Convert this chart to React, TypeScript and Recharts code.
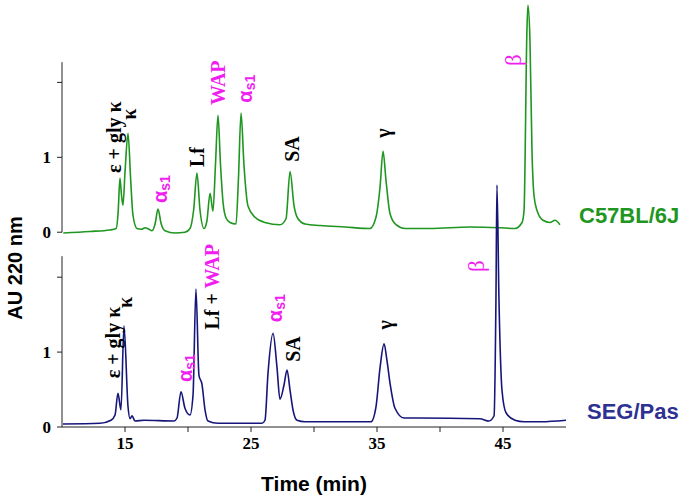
import { LineChart, Line, XAxis, YAxis, ReferenceLine, ReferenceDot } from 'recharts';

// retention time (min) and absorbance
const greenTime = [
  10.1, 12.2, 13.8, 14.3, 14.45, 14.6, 14.72, 14.84, 15.0, 15.24, 15.45, 15.63, 15.95, 16.3, 16.6, 16.9,
  17.14, 17.4, 17.62, 17.86, 18.17, 18.97, 19.76, 20.16, 20.45, 20.71, 20.95, 21.27, 21.5, 21.75, 21.98,
  22.18, 22.38, 22.58, 22.78, 23.02, 23.33, 23.81, 24.0, 24.21, 24.44, 24.76, 25.32, 26.11, 27.3, 27.78,
  28.1, 28.41, 28.73, 29.29, 30.48, 32.46, 34.44, 34.92, 35.24, 35.48, 35.71, 36.03, 36.51, 37.22, 39.21,
  42.38, 44.76, 45.95, 46.51, 46.67, 46.9, 46.98, 47.14, 47.3, 47.46, 47.7, 48.17, 48.73, 49.13, 49.52,
];
const greenAU = [
  -0.01, 0.01, 0.03, 0.05, 0.25, 0.72, 0.5, 0.36, 0.8, 1.32, 0.7, 0.23, 0.05, 0.04, 0.06, 0.04,
  0.02, 0.12, 0.31, 0.12, 0.02, -0.01, 0.0, 0.05, 0.3, 0.79, 0.3, 0.05, 0.15, 0.52, 0.28,
  0.9, 1.56, 0.9, 0.4, 0.19, 0.13, 0.11, 0.7, 1.59, 0.9, 0.35, 0.2, 0.13, 0.1, 0.18,
  0.81, 0.36, 0.18, 0.11, 0.09, 0.07, 0.05, 0.2, 0.6, 1.08, 0.7, 0.25, 0.1, 0.05, 0.05,
  0.07, 0.06, 0.05, 0.13, 0.29, 2.7, 3.03, 2.56, 1.09, 0.49, 0.29, 0.16, 0.13, 0.16, 0.1,
];

const navyTime = [
  10.08, 13.02, 13.89, 14.21, 14.44, 14.68, 14.92, 15.24, 15.4, 15.56, 15.79, 16.51, 18.89, 19.13, 19.44,
  19.76, 20.16, 20.4, 20.63, 20.87, 21.11, 21.35, 21.59, 22.38, 25.87, 26.11, 26.35, 26.75, 27.06, 27.3,
  27.62, 27.86, 28.1, 28.33, 28.65, 29.29, 34.52, 34.92, 35.24, 35.56, 35.79, 36.03, 36.43, 37.14, 38.33,
  43.17, 43.89, 44.29, 44.44, 44.52, 44.68, 44.92, 45.24, 45.95, 46.67, 48.02, 50.0,
];
const navyAU = [
  0.04, 0.05, 0.09, 0.16, 0.45, 0.23, 1.35, 0.27, 0.11, 0.15, 0.08, 0.09, 0.08, 0.12, 0.47,
  0.25, 0.16, 0.43, 1.84, 0.69, 0.57, 0.23, 0.08, 0.05, 0.05, 0.09, 0.72, 1.25, 0.8, 0.37,
  0.56, 0.76, 0.49, 0.23, 0.09, 0.07, 0.07, 0.27, 0.79, 1.11, 0.89, 0.59, 0.25, 0.12, 0.12,
  0.11, 0.08, 0.15, 1.7, 3.23, 1.7, 0.49, 0.19, 0.09, 0.07, 0.07, 0.09,
];

const timeTicks = [15, 20, 25, 30, 35, 40, 45];
const labeledTimes = [15, 25, 35, 45];
const auTicks = [0, 1, 2];

// the upper trace is drawn raised by this many units
const OFFSET = 2.6;

const GREEN = '#1f961f';
const NAVY = '#16167a';
const MAGENTA = '#f01ef0';
const SERIF = "'Liberation Serif', 'Times New Roman', serif";
const SANS = "'Liberation Sans', Arial, sans-serif";

type Part = { text: string; color?: string; sans?: boolean; sub?: boolean; bold?: boolean; big?: boolean };

const alphaS1: Part[] = [
  { text: 'α', color: MAGENTA, sans: true },
  { text: 's1', color: MAGENTA, sans: true, sub: true },
];
const beta: Part[] = [{ text: 'β', color: MAGENTA, bold: false, big: true }];

const peakLabels: { t: number; au: number; top: boolean; parts: Part[] }[] = [
  { t: 14.13, au: 0.79, top: true, parts: [{ text: 'ε + gly κ' }] },
  { t: 15.32, au: 1.5, top: true, parts: [{ text: 'κ' }] },
  { t: 17.78, au: 0.39, top: true, parts: alphaS1 },
  { t: 20.71, au: 0.87, top: true, parts: [{ text: 'Lf' }] },
  { t: 22.38, au: 1.7, top: true, parts: [{ text: 'WAP', color: MAGENTA }] },
  { t: 24.52, au: 1.73, top: true, parts: alphaS1 },
  { t: 28.25, au: 0.94, top: true, parts: [{ text: 'SA' }] },
  { t: 35.48, au: 1.26, top: true, parts: [{ text: 'γ' }] },
  { t: 45.79, au: 2.22, top: true, parts: beta },
  { t: 14.05, au: 0.65, top: false, parts: [{ text: 'ε + gly κ' }] },
  { t: 15.0, au: 1.59, top: false, parts: [{ text: 'κ' }] },
  { t: 19.76, au: 0.6, top: false, parts: alphaS1 },
  { t: 21.9, au: 1.3, top: false, parts: [{ text: 'Lf + ' }, { text: 'WAP', color: MAGENTA }] },
  { t: 26.9, au: 1.4, top: false, parts: alphaS1 },
  { t: 28.33, au: 0.87, top: false, parts: [{ text: 'SA' }] },
  { t: 35.63, au: 1.3, top: false, parts: [{ text: 'γ' }] },
  { t: 42.86, au: 2.07, top: false, parts: beta },
];

const greenData = greenTime.map((t, i) => ({ t, v: greenAU[i] + OFFSET }));
const navyData = navyTime.map((t, i) => ({ t, v: navyAU[i] }));

const renderPeakLabel = (parts: Part[]) => (props: any) => {
  const vb = props.viewBox || {};
  const x = vb.x + (vb.width || 0) / 2;
  const y = vb.y + (vb.height || 0) / 2;
  return (
    <text
      x={x}
      y={y}
      transform={`rotate(-90 ${x} ${y})`}
      dominantBaseline="central"
      textAnchor="start"
    >
      {parts.map((p, i) => (
        <tspan
          key={i}
          fill={p.color || '#000'}
          fontFamily={p.sans ? SANS : SERIF}
          fontWeight={p.bold === false ? 'normal' : 'bold'}
          fontSize={p.sub ? 14 : p.big ? 23 : p.sans ? 20 : 20}
          dy={p.sub ? '0.35em' : undefined}
        >
          {p.text}
        </tspan>
      ))}
    </text>
  );
};

const auTickFormat = (v: number) => {
  const local = Math.round(v >= OFFSET - 0.01 ? v - OFFSET : v);
  return local === 2 ? '' : String(local);
};

export default function App() {
  return (
    <div style={{ position: 'absolute', left: 0, top: 0, width: 685, height: 501, background: '#fff' }}>
      <LineChart width={685} height={501} margin={{ top: 0, right: 119, bottom: 0, left: 0 }}>
        <XAxis
          dataKey="t"
          type="number"
          domain={[10, 50]}
          allowDataOverflow
          ticks={timeTicks}
          tickFormatter={(v: number) => (labeledTimes.includes(v) ? String(v) : '')}
          height={74}
          tickSize={5}
          tickMargin={5}
          stroke="#222"
          tick={{ fill: '#000', fontFamily: SERIF, fontWeight: 'bold', fontSize: 17 }}
          label={{
            value: 'Time (min)',
            position: 'insideBottom',
            offset: 10,
            fill: '#000',
            fontFamily: SANS,
            fontWeight: 'bold',
            fontSize: 21,
          }}
        />
        <YAxis
          type="number"
          domain={[0, 5.7]}
          allowDataOverflow
          ticks={[...auTicks, ...auTicks.map((v) => v + OFFSET)]}
          tickFormatter={auTickFormat}
          width={62}
          axisLine={false}
          tickSize={5}
          tickMargin={6}
          stroke="#222"
          tick={{ fill: '#000', fontFamily: SERIF, fontWeight: 'bold', fontSize: 17 }}
        />
        <ReferenceLine
          segment={[{ x: 10, y: 0 }, { x: 10, y: 2.28 }]}
          stroke="#222"
          ifOverflow="visible"
        />
        <ReferenceLine
          segment={[{ x: 10, y: OFFSET }, { x: 10, y: OFFSET + 2.27 }]}
          stroke="#222"
          ifOverflow="visible"
        />
        <Line
          data={greenData}
          dataKey="v"
          type="monotone"
          stroke={GREEN}
          strokeWidth={1.6}
          dot={false}
          isAnimationActive={false}
        />
        <Line
          data={navyData}
          dataKey="v"
          type="monotone"
          stroke={NAVY}
          strokeWidth={1.6}
          dot={false}
          isAnimationActive={false}
        />
        {peakLabels.map((p, i) => (
          <ReferenceDot
            key={i}
            x={p.t}
            y={p.top ? p.au + OFFSET : p.au}
            r={1}
            fill="none"
            stroke="none"
            ifOverflow="visible"
            label={renderPeakLabel(p.parts)}
          />
        ))}
      </LineChart>
      <div
        style={{
          position: 'absolute',
          left: 15,
          top: 268,
          transform: 'translate(-50%, -50%) rotate(-90deg)',
          whiteSpace: 'nowrap',
          fontFamily: SANS,
          fontWeight: 'bold',
          fontSize: 20,
          lineHeight: 1,
        }}
      >
        AU 220 nm
      </div>
      <div
        style={{
          position: 'absolute',
          left: 579,
          top: 216,
          transform: 'translateY(-50%)',
          color: GREEN,
          fontFamily: SANS,
          fontWeight: 'bold',
          fontSize: 22,
          lineHeight: 1,
        }}
      >
        C57BL/6J
      </div>
      <div
        style={{
          position: 'absolute',
          left: 587,
          top: 412,
          transform: 'translateY(-50%)',
          color: '#2e3192',
          fontFamily: SANS,
          fontWeight: 'bold',
          fontSize: 22,
          lineHeight: 1,
        }}
      >
        SEG/Pas
      </div>
    </div>
  );
}
